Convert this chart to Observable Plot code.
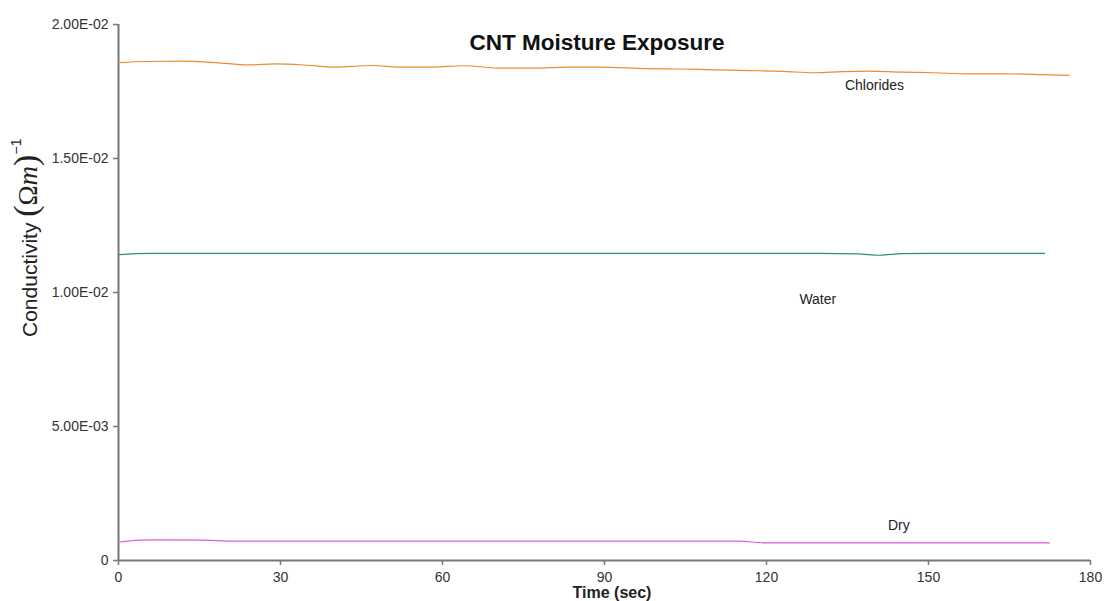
<!DOCTYPE html>
<html>
<head>
<meta charset="utf-8">
<script src="https://cdn.jsdelivr.net/npm/d3@7"></script>
<script src="https://cdn.jsdelivr.net/npm/@observablehq/plot@0.6"></script>
<style>
  html, body { margin: 0; padding: 0; background: #fff; }
  #chart svg { display: block; }
</style>
</head>
<body>
<div id="chart"></div>
<script>
// ---- data ----
const chlorideTime = [0, 5, 12, 18, 24, 29, 35, 40, 47, 52, 58, 64, 71, 77, 83, 89, 98, 104, 110, 117, 123, 129, 134, 139, 145, 151, 157, 164, 171, 176];
const chlorideValue = [0.01858, 0.01862, 0.01863, 0.01858, 0.01849, 0.01853, 0.01848, 0.01841, 0.01847, 0.01841, 0.01841, 0.01846, 0.01837, 0.01837, 0.01841, 0.01841, 0.01835, 0.01834, 0.01831, 0.01828, 0.01825, 0.01820, 0.01824, 0.01826, 0.01822, 0.01820, 0.01816, 0.01816, 0.01813, 0.01810];

const waterTime = [0, 3, 6, 20, 60, 100, 130, 137, 141, 145, 150, 171.5];
const waterValue = [0.01141, 0.01145, 0.01146, 0.01146, 0.01146, 0.01146, 0.01146, 0.01144, 0.01139, 0.01145, 0.01146, 0.01146];

const dryTime = [0, 4, 8, 16, 21, 40, 80, 115, 119.5, 140, 172.4];
const dryValue = [0.00068, 0.00076, 0.00077, 0.00076, 0.00072, 0.00072, 0.00072, 0.00072, 0.00066, 0.00066, 0.00066];

const seriesNames = ["Chlorides", "Water", "Dry"];
const seriesColors = ["#ef8a2e", "#2f8f6f", "#de5ade"];
// annotation anchors (time, conductivity)
const labelTime = [140, 129.5, 144.5];
const labelValue = [0.01772, 0.00974, 0.00130];

const xTicks = [0, 30, 60, 90, 120, 150, 180];
const yTicks = [0, 0.005, 0.01, 0.015, 0.02];

const titleText = "CNT Moisture Exposure";
const xLabelText = "Time (sec)";

// ---- build tables ----
const toRows = (name, ts, vs) => ts.map((t, i) => ({series: name, t, v: vs[i]}));
const rows = [
  ...toRows("Chlorides", chlorideTime, chlorideValue),
  ...toRows("Water", waterTime, waterValue),
  ...toRows("Dry", dryTime, dryValue)
];
const labels = seriesNames.map((s, i) => ({series: s, t: labelTime[i], v: labelValue[i]}));

const fmtY = d => {
  if (d === 0) return "0";
  const [m, e] = d.toExponential(2).split("e");
  const ex = String(Math.abs(+e)).padStart(2, "0");
  return `${m}E${+e < 0 ? "-" : "+"}${ex}`;
};

const W = 1107, H = 601;
const chart = Plot.plot({
  width: W,
  height: H,
  marginLeft: 118,
  marginRight: 17,
  marginTop: 24,
  marginBottom: 41,
  style: {fontFamily: "'Liberation Sans', Arial, sans-serif", fontSize: "14px", color: "#333", background: "#fff"},
  x: {domain: [0, 180]},
  y: {domain: [0, 0.02]},
  color: {domain: seriesNames, range: seriesColors},
  marks: [
    Plot.axisX({ticks: xTicks, tickSize: 5, tickPadding: 7, label: null, stroke: "#777", strokeWidth: 1.5, fill: "#333", fontSize: 14}),
    Plot.axisY({ticks: yTicks, tickSize: 5, tickPadding: 5, label: null, tickFormat: fmtY, stroke: "#777", strokeWidth: 1.5, fill: "#333", fontSize: 14}),
    Plot.ruleX([0], {stroke: "#777", strokeWidth: 2}),
    Plot.ruleY([0], {stroke: "#777", strokeWidth: 2}),
    Plot.line(rows, {x: "t", y: "v", z: "series", stroke: "series", strokeWidth: 1.2, curve: "monotone-x"}),
    Plot.text(labels, {x: "t", y: "v", text: "series", fill: "#222", fontSize: 14})
  ]
});
document.getElementById("chart").appendChild(chart);

const svg = d3.select(chart);
// title
svg.append("text")
  .attr("x", 597).attr("y", 50)
  .attr("text-anchor", "middle")
  .attr("font-family", "'Liberation Sans', Arial, sans-serif")
  .attr("font-weight", "bold").attr("font-size", 22.5).attr("fill", "#111")
  .text(titleText);
// x label
svg.append("text")
  .attr("x", 612).attr("y", 598)
  .attr("text-anchor", "middle")
  .attr("font-family", "'Liberation Sans', Arial, sans-serif")
  .attr("font-weight", "bold").attr("font-size", 16).attr("fill", "#222")
  .text(xLabelText);
// y label with math
const serif = "'Liberation Serif', 'DejaVu Serif', serif";
const yl = svg.append("text")
  .attr("transform", "translate(37,337) rotate(-90)")
  .attr("text-anchor", "start")
  .attr("font-family", "'Liberation Sans', Arial, sans-serif")
  .attr("font-size", 21).attr("fill", "#222");
yl.append("tspan").text("Conductivity ");
yl.append("tspan").attr("font-family", serif).attr("font-size", 34).text("(");
yl.append("tspan").attr("font-family", serif).attr("font-size", 27).text("Ω");
yl.append("tspan").attr("font-family", serif).attr("font-style", "italic").attr("font-size", 27).text("m");
yl.append("tspan").attr("font-family", serif).attr("font-size", 34).text(")");
yl.append("tspan").attr("font-size", 14).attr("dy", -16).text("−1");
</script>
</body>
</html>
